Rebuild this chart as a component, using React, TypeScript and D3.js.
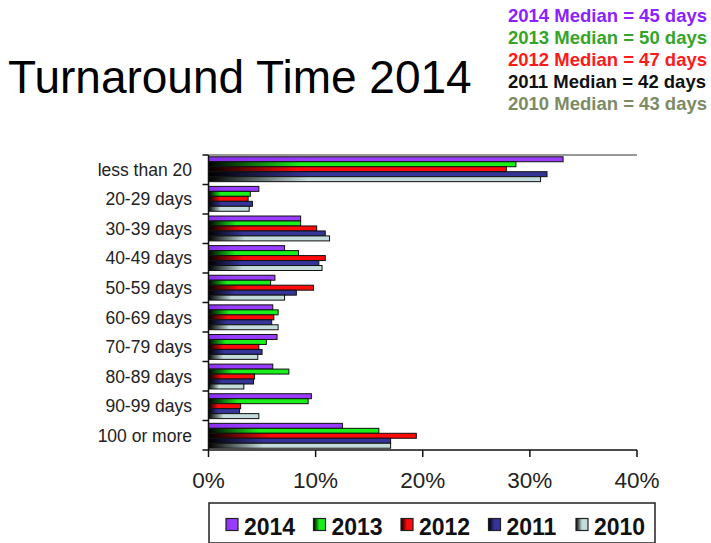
import React from "react";
import * as d3 from "d3";

const categories = [
  "less than 20",
  "20-29 days",
  "30-39 days",
  "40-49 days",
  "50-59 days",
  "60-69 days",
  "70-79 days",
  "80-89 days",
  "90-99 days",
  "100 or more",
];
const seriesNames = ["2014", "2013", "2012", "2011", "2010"];
const values2014 = [33.1, 4.7, 8.6, 7.1, 6.2, 6.0, 6.4, 6.0, 9.6, 12.5];
const values2013 = [28.7, 3.9, 8.6, 8.4, 5.8, 6.5, 5.4, 7.5, 9.3, 15.9];
const values2012 = [27.8, 3.7, 10.1, 10.9, 9.8, 6.1, 4.7, 4.3, 3.0, 19.4];
const values2011 = [31.6, 4.1, 10.9, 10.3, 8.2, 5.9, 5.0, 4.2, 2.9, 17.0];
const values2010 = [31.0, 3.8, 11.3, 10.6, 7.1, 6.5, 4.6, 3.3, 4.7, 17.0];
const xTicks = [0, 10, 20, 30, 40];
const medianLines = [
  "2014 Median = 45 days",
  "2013 Median = 50 days",
  "2012 Median = 47 days",
  "2011 Median = 42 days",
  "2010 Median = 43 days",
];

const seriesValues = [values2014, values2013, values2012, values2011, values2010];
const barColors = ["#9B3DFF", "#19F019", "#FF0A0A", "#343499", "#C4DCDC"];
const gradStart = ["#8A30EE", "#000000", "#000000", "#000000", "#000000"];
const medianColors = ["#8B22FF", "#35A52A", "#FF1A1A", "#111111", "#7D8B64"];

const FONT = "'Liberation Sans', Arial, sans-serif";

export default function App() {
  const W = 711;
  const H = 543;
  const x0 = 208.5;
  const x1 = 637;
  const yTop = 155;
  const yBot = 450;

  const x = d3.scaleLinear().domain([0, 40]).range([x0, x1]);
  const y = d3.scaleBand<string>().domain(categories).range([yTop, yBot]).paddingInner(0.16).paddingOuter(0.06);
  const band = d3.scaleBand<string>().domain(seriesNames).range([0, y.bandwidth()]);
  const boundaries = d3.range(categories.length + 1).map((i) => yTop + (i * (yBot - yTop)) / categories.length);

  const legendX = d3.scaleLinear().domain([0, 4]).range([226, 576]);

  return (
    <svg
      width={W}
      height={H}
      style={{ position: "absolute", left: 0, top: 0, background: "#fff" }}
      fontFamily={FONT}
    >
      <defs>
        {seriesNames.map((s, i) => (
          <linearGradient key={s} id={`g${s}`} x1="0" y1="0" x2="1" y2="0">
            <stop offset="0" stopColor={gradStart[i]} />
            <stop offset="0.3" stopColor={barColors[i]} />
            <stop offset="1" stopColor={barColors[i]} />
          </linearGradient>
        ))}
        {seriesNames.map((s, i) => (
          <linearGradient key={s} id={`l${s}`} x1="0" y1="0" x2="1" y2="0">
            <stop offset="0" stopColor={gradStart[i]} />
            <stop offset="0.5" stopColor={barColors[i]} />
            <stop offset="1" stopColor={barColors[i]} />
          </linearGradient>
        ))}
      </defs>
      <rect width={W} height={H} fill="#fff" />

      <text x={8} y={93} fontSize={46} fill="#000">
        Turnaround Time 2014
      </text>

      {medianLines.map((t, i) => (
        <text key={t} x={508} y={22 + i * 22} fontSize={18.5} fontWeight="bold" fill={medianColors[i]}>
          {t}
        </text>
      ))}

      {/* bars */}
      {categories.map((c, ci) => (
        <g key={c} transform={`translate(0,${y(c)})`}>
          {seriesNames.map((s, si) => (
            <rect
              key={s}
              x={x(0)}
              y={band(s)}
              width={x(seriesValues[si][ci]) - x(0)}
              height={band.bandwidth()}
              fill={`url(#g${s})`}
              stroke="#111"
              strokeWidth={1}
            />
          ))}
        </g>
      ))}

      {/* frame */}
      <line x1={x0} x2={x1} y1={yTop} y2={yTop} stroke="#333" strokeWidth={1.2} />
      <line x1={x0} x2={x0} y1={yTop} y2={yBot} stroke="#111" strokeWidth={1.5} />
      <line x1={x0} x2={x1} y1={yBot} y2={yBot} stroke="#111" strokeWidth={1.5} />

      {boundaries.map((b, i) => (
        <line key={i} x1={x0 - 6} x2={x0} y1={b} y2={b} stroke="#111" strokeWidth={1.5} />
      ))}
      {categories.map((c) => (
        <text
          key={c}
          x={192}
          y={(y(c) ?? 0) + y.bandwidth() / 2}
          dy="0.36em"
          textAnchor="end"
          fontSize={17.5}
          fill="#222"
        >
          {c}
        </text>
      ))}

      {xTicks.map((t) => (
        <g key={t}>
          <line x1={x(t)} x2={x(t)} y1={yBot} y2={yBot + 7} stroke="#111" strokeWidth={1.5} />
          <text x={x(t)} y={488} textAnchor="middle" fontSize={22.5} fill="#222">
            {`${t}%`}
          </text>
        </g>
      ))}

      {/* legend */}
      <rect x={209} y={503} width={446} height={40} fill="#fff" stroke="#222" strokeWidth={1.5} />
      {seriesNames.map((s, i) => (
        <g key={s}>
          <rect
            x={legendX(i)}
            y={518.5}
            width={12}
            height={12}
            fill={`url(#l${s})`}
            stroke="#222"
            strokeWidth={1.2}
          />
          <text x={legendX(i) + 18} y={535} fontSize={23} fontWeight="bold" fill="#111">
            {s}
          </text>
        </g>
      ))}
    </svg>
  );
}
